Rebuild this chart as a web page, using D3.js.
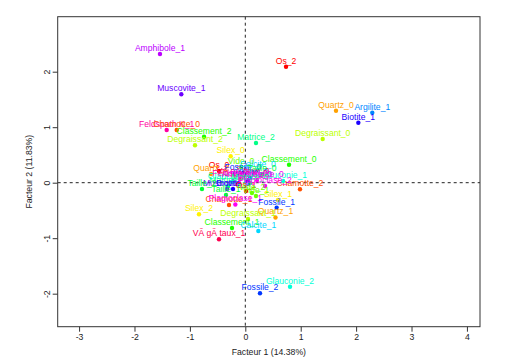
<!DOCTYPE html>
<html>
<head>
<meta charset="utf-8">
<script src="https://cdn.jsdelivr.net/npm/d3@7"></script>
<style>
  body { margin: 0; background: #fff; }
  text { font-family: "Liberation Sans", Arial, sans-serif; }
</style>
</head>
<body>
<div id="chart"></div>
<script>
// modalities of the MCA, with coordinates
var labels = [
  "Amphibole_1", "Muscovite_1", "Os_2", "Quartz_0", "Argilite_1", "Biotite_1",
  "Degraissant_0", "Matrice_2", "Classement_0", "Chamotte_2", "Feldspath K_1", "Chamotte_0",
  "Classement_2", "Degraissant_2", "Silex_0", "Vide_0", "Os_0", "Quartz_2",
  "Fossile_0", "Calcite_0", "VÃ gÃ taux_0", "Taille_0", "Glauconie_1", "Glauconie_0",
  "Amphibole_0", "Argilite_0", "Feldspath K_0", "Plagioclase_0", "Matrice_0", "Matrice_1",
  "Muscovite_0", "Taille_2", "Biotite_0", "Os_1", "Plagioclase_2", "Vide_2",
  "Taille_1", "Vide_1", "Silex_1", "Chamotte_1", "Plagioclase_1", "Fossile_1",
  "Quartz_1", "Silex_2", "Degraissant_1", "Classement_1", "Calcite_1", "VÃ gÃ taux_1",
  "Glauconie_2", "Fossile_2"
];
var dim1 = [
  -1.54, -1.155, 0.735, 1.637, 2.292, 2.04,
  1.397, 0.193, 0.789, 0.987, -1.419, -1.238,
  -0.745, -0.908, -0.264, -0.078, -0.475, -0.619,
  -0.042, 0.229, -0.042, 0.301, 0.681, -0.24,
  0.031, 0.085, -0.096, 0.211, 0.085, -0.312,
  -0.33, -0.782, -0.222, 0.013, 0.356, 0.12,
  -0.348, 0.193, 0.59, -0.294, -0.18, 0.566,
  0.545, -0.836, 0.049, -0.24, 0.235, -0.475,
  0.807, 0.265
];
var dim2 = [
  2.32, 1.593, 2.09, 1.297, 1.261, 1.081,
  0.787, 0.715, 0.324, -0.119, 0.95, 0.95,
  0.829, 0.674, 0.476, 0.283, 0.211, 0.157,
  0.175, 0.229, 0.103, 0.157, 0.031, 0.013,
  0.049, 0.085, 0.067, 0.049, -0.005, -0.06,
  -0.114, -0.114, -0.114, -0.15, -0.06, -0.186,
  -0.222, -0.24, -0.312, -0.402, -0.393, -0.45,
  -0.627, -0.569, -0.654, -0.816, -0.87, -1.02,
  -1.874, -1.993
];
// variables, in the order of the rainbow palette
var variables = [
  "Os", "Chamotte", "Quartz", "Silex", "Degraissant", "Vide", "Classement",
  "Taille", "Matrice", "Glauconie", "Calcite", "Argilite", "Fossile", "Biotite",
  "Muscovite", "Amphibole", "Plagioclase", "Feldspath K", "VÃ gÃ taux"
];
var xTicks = [-3, -2, -1, 0, 1, 2, 3, 4];
var yTicks = [-2, -1, 0, 1, 2];
var xTitle = "Facteur 1 (14.38%)";
var yTitle = "Facteur 2 (11.83%)";

// rainbow(n) like R
var palette = variables.map(function(v, i) {
  return d3.hsl(i / variables.length * 360, 1, 0.5).formatHex();
});

var data = labels.map(function(l, i) {
  return { label: l, x: dim1[i], y: dim2[i], v: l.slice(0, l.lastIndexOf("_")) };
});

var width = 525, height = 362;
var box = { left: 57.7, right: 480, top: 16.7, bottom: 326.7 };

var svg = d3.select("#chart").append("svg")
  .attr("width", width)
  .attr("height", height);

svg.append("rect").attr("width", width).attr("height", height).attr("fill", "#fff");

var x = d3.scaleLinear().domain([-3.386, 4.236]).range([box.left, box.right]);
var y = d3.scaleLinear().domain([-2.595, 2.991]).range([box.bottom, box.top]);

var color = d3.scaleOrdinal().domain(variables).range(palette);
var fmt = function(d) { return String(d); };

// dashed reference lines
svg.append("line")
  .attr("x1", x(0)).attr("x2", x(0))
  .attr("y1", box.top).attr("y2", box.bottom)
  .attr("stroke", "#222").attr("stroke-dasharray", "3,3");
svg.append("line")
  .attr("x1", box.left).attr("x2", box.right)
  .attr("y1", y(0)).attr("y2", y(0))
  .attr("stroke", "#222").attr("stroke-dasharray", "3,3");

// axes
var gx = svg.append("g")
  .attr("transform", "translate(0," + box.bottom + ")")
  .call(d3.axisBottom(x).tickValues(xTicks).tickFormat(fmt).tickSize(5).tickSizeOuter(0));
gx.select(".domain").remove();
gx.selectAll("text").attr("y", 13.7).attr("dy", 0)
  .style("font-size", "8.7px").attr("fill", "#222");

var gy = svg.append("g")
  .attr("transform", "translate(" + box.left + ",0)")
  .call(d3.axisLeft(y).tickValues(yTicks).tickFormat(fmt).tickSize(5).tickSizeOuter(0));
gy.select(".domain").remove();
gy.selectAll("text")
  .attr("x", 0).attr("dy", 0)
  .attr("text-anchor", "middle")
  .attr("transform", "translate(-8,0) rotate(-90)")
  .style("font-size", "8.7px").attr("fill", "#222");
svg.selectAll(".tick line").attr("stroke", "#333");

svg.append("rect")
  .attr("x", box.left).attr("y", box.top)
  .attr("width", box.right - box.left).attr("height", box.bottom - box.top)
  .attr("fill", "none").attr("stroke", "#333");

svg.append("text")
  .attr("x", (box.left + box.right) / 2).attr("y", 354.8)
  .attr("text-anchor", "middle")
  .style("font-size", "8.7px").attr("fill", "#222")
  .text(xTitle);

svg.append("text")
  .attr("transform", "translate(32," + (box.top + box.bottom) / 2 + ") rotate(-90)")
  .attr("text-anchor", "middle")
  .style("font-size", "8.7px").attr("fill", "#222")
  .text(yTitle);

// points and labels
var pts = svg.append("g").selectAll("g").data(data).enter().append("g");
pts.append("circle")
  .attr("cx", function(d) { return x(d.x); })
  .attr("cy", function(d) { return y(d.y); })
  .attr("r", 2.2)
  .attr("fill", function(d) { return color(d.v); });
pts.append("text")
  .attr("x", function(d) { return x(d.x); })
  .attr("y", function(d) { return y(d.y) - 3; })
  .attr("text-anchor", "middle")
  .style("font-size", "8.6px")
  .attr("fill", function(d) { return color(d.v); })
  .text(function(d) { return d.label; });
</script>
</body>
</html>
